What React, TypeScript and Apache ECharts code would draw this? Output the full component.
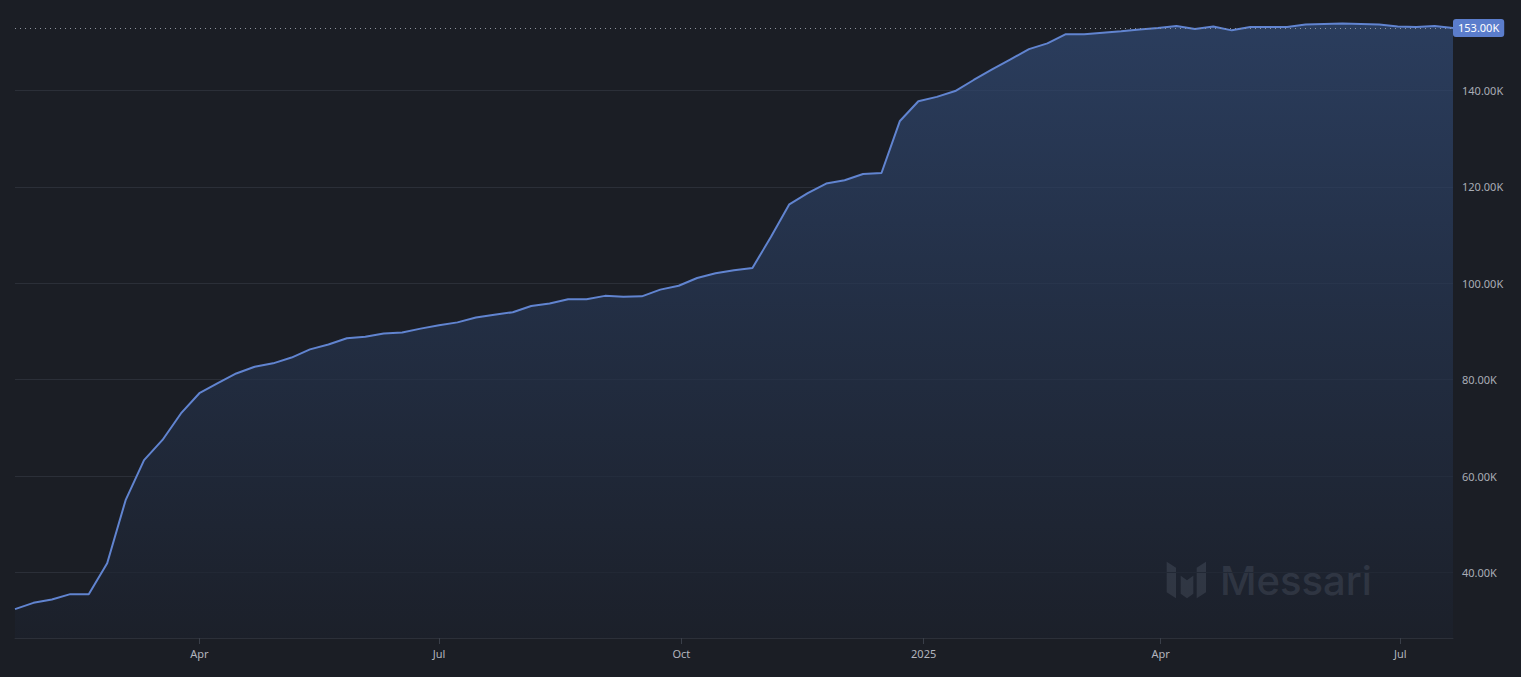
import React, { useEffect, useRef } from "react";
import * as echarts from "echarts";

// Weekly observations starting 2024-01-22 (one every 7 days)
const START_DATE = [2024, 0, 22];
const VALUES = [
  32.4, 33.7, 34.4, 35.5, 35.5, 41.9, 55.0, 63.3, 67.5, 73.0,
  77.2, 79.3, 81.3, 82.7, 83.4, 84.6, 86.3, 87.3, 88.6, 88.9,
  89.6, 89.8, 90.6, 91.3, 91.9, 92.9, 93.5, 94.0, 95.3, 95.8,
  96.7, 96.7, 97.4, 97.2, 97.3, 98.7, 99.5, 101.1, 102.1, 102.7,
  103.2, 109.6, 116.4, 118.7, 120.7, 121.4, 122.7, 122.9, 133.7, 137.8,
  138.7, 139.9, 142.2, 144.4, 146.5, 148.6, 149.8, 151.7, 151.7, 152.0,
  152.3, 152.7, 153.0, 153.4, 152.8, 153.3, 152.5, 153.2, 153.2, 153.2,
  153.7, 153.8, 153.9, 153.8, 153.7, 153.3, 153.2, 153.4, 153.0,
].map((v) => v * 1000);

const LAST_VALUE = 153000;
const X_TICKS = [
  [2024, 3, 1],
  [2024, 6, 1],
  [2024, 9, 1],
  [2025, 0, 1],
  [2025, 3, 1],
  [2025, 6, 1],
];
const Y_MIN = 26400;
const Y_MAX = 158800;
const X_MAX = [2025, 6, 21];
const MONTHS = ["Jan", "Feb", "Mar", "Apr", "May", "Jun", "Jul", "Aug", "Sep", "Oct", "Nov", "Dec"];

const FONT = "'Noto Sans', 'Open Sans', sans-serif";

export default function App() {
  const ref = useRef<HTMLDivElement>(null);
  useEffect(() => {
    document.body.style.margin = "0";
    document.body.style.background = "#1b1e25";
    if (!ref.current) return;
    const chart = echarts.init(ref.current, null, { renderer: "svg" });
    const data = VALUES.map((v, i) => [
      new Date(START_DATE[0], START_DATE[1], START_DATE[2] + 7 * i).getTime(),
      v,
    ]);
    const tickValues = X_TICKS.map((d) => new Date(d[0], d[1], d[2]).getTime());
    const wm = "rgba(205,215,232,0.36)";
    chart.setOption({
      animation: false,
      backgroundColor: "#1b1e25",
      grid: { left: 15, right: 68, top: 0, bottom: 39 },
      xAxis: {
        type: "value",
        min: data[0][0],
        max: new Date(X_MAX[0], X_MAX[1], X_MAX[2]).getTime(),
        axisLine: { show: true, lineStyle: { color: "#2c3039", width: 1 } },
        axisTick: {
          show: true,
          customValues: tickValues,
          length: 6,
          lineStyle: { color: "#3a3f49" },
        },
        splitLine: { show: false },
        axisLabel: {
          customValues: tickValues,
          color: "#b2b5be",
          fontSize: 11,
          fontFamily: FONT,
          margin: 10,
          formatter: (val: number) => {
            const d = new Date(val);
            return d.getMonth() === 0 ? String(d.getFullYear()) : MONTHS[d.getMonth()];
          },
        },
      },
      yAxis: {
        type: "value",
        position: "right",
        min: Y_MIN,
        max: Y_MAX,
        splitNumber: 7,
        minInterval: 20000,
        maxInterval: 20000,
        axisLine: { show: false },
        axisTick: { show: false },
        splitLine: {
          show: true,
          showMinLine: false,
          showMaxLine: false,
          lineStyle: { color: "#2b2f38", width: 1 },
        },
        axisLabel: {
          showMinLabel: false,
          showMaxLabel: false,
          color: "#a9adb6",
          fontSize: 11,
          fontFamily: FONT,
          margin: 9,
          formatter: (v: number) => (v / 1000).toFixed(2) + "K",
        },
      },
      series: [
        {
          type: "line",
          data,
          symbol: "none",
          lineStyle: { color: "#6184d0", width: 2 },
          areaStyle: {
            color: new echarts.graphic.LinearGradient(0, 0, 0, 1, [
              { offset: 0, color: "#314a75" },
              { offset: 0.5, color: "#25344f" },
              { offset: 1, color: "#1c212c" },
            ]),
          },
          markLine: {
            silent: true,
            symbol: "none",
            data: [{ yAxis: LAST_VALUE }],
            lineStyle: { color: "#8d939e", type: [1, 4], width: 1 },
            label: {
              position: "end",
              distance: 0,
              formatter: (LAST_VALUE / 1000).toFixed(2) + "K",
              color: "#ffffff",
              fontSize: 11,
              fontFamily: FONT,
              backgroundColor: "#5b7dcc",
              padding: [4, 5, 3, 5],
              borderRadius: 3,
            },
          },
          z: 2,
        },
      ],
      graphic: [
        {
          type: "group",
          silent: true,
          z: 10,
          children: [
            {
              type: "polygon",
              shape: { points: [[1166.7, 561.7], [1176, 567.7], [1176, 598.3], [1166.7, 592.3]] },
              style: { fill: wm },
            },
            {
              type: "polygon",
              shape: {
                points: [
                  [1180.7, 575.7], [1187, 580.3], [1193.3, 575.7],
                  [1193.3, 593.7], [1187, 598.3], [1180.7, 593.7],
                ],
              },
              style: { fill: wm },
            },
            {
              type: "polygon",
              shape: { points: [[1196.7, 567.7], [1206, 561.7], [1206, 592.3], [1196.7, 598.3]] },
              style: { fill: wm },
            },
            {
              type: "text",
              x: 1220,
              y: 580,
              style: {
                text: "Messari",
                fill: wm,
                font: "500 40px Inter, 'Noto Sans', sans-serif",
                verticalAlign: "middle",
                align: "left",
              },
            },
          ],
        },
      ],
    });
    return () => chart.dispose();
  }, []);
  return <div ref={ref} style={{ width: 1521, height: 677 }} />;
}
